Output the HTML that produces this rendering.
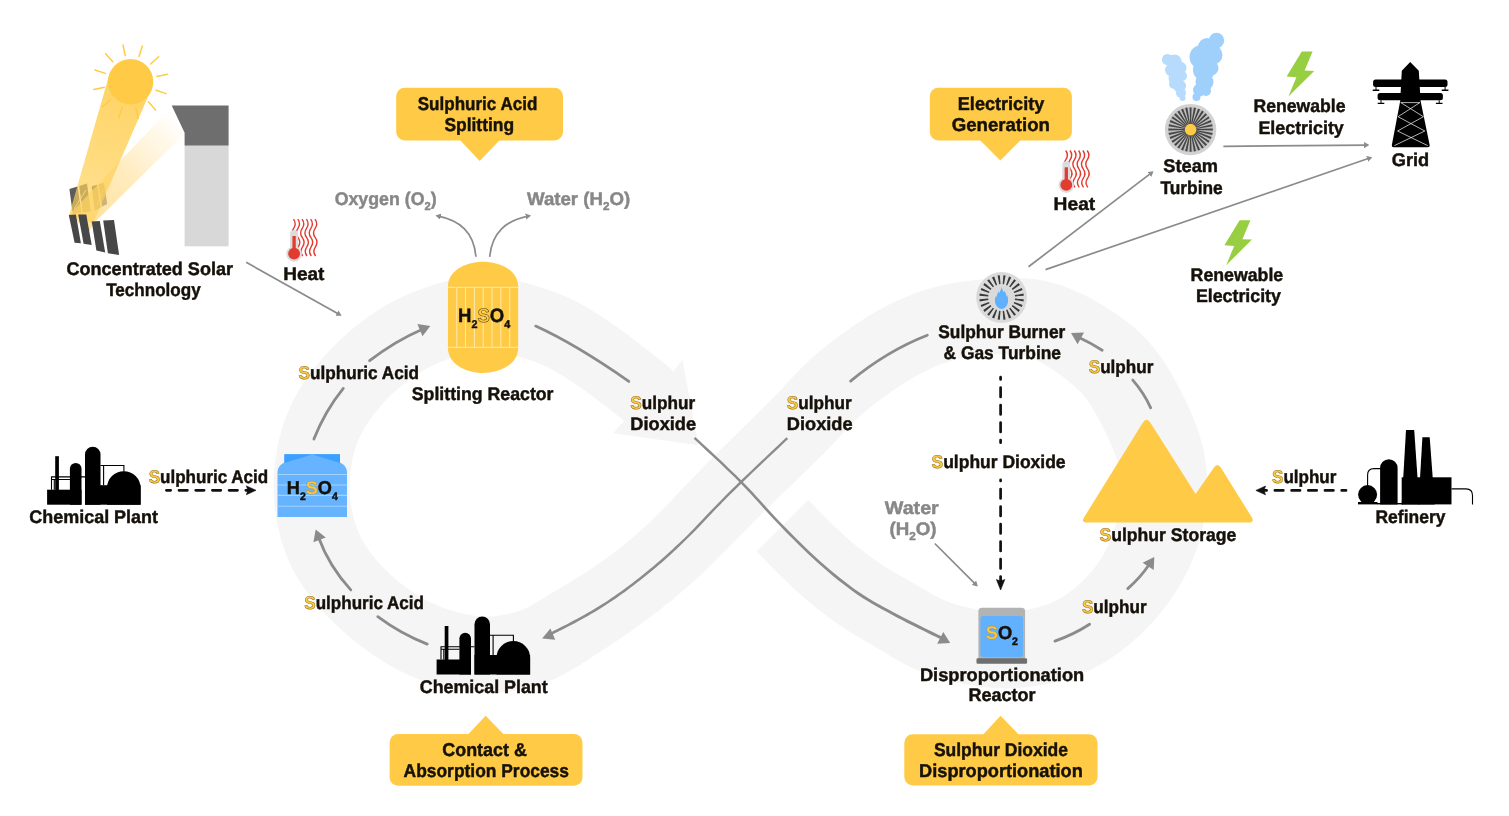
<!DOCTYPE html>
<html lang="en"><head><meta charset="utf-8"><title>Sulphur cycle</title>
<style>
html,body{margin:0;padding:0;background:#fff;}
body{width:1509px;height:816px;overflow:hidden;}
svg{display:block;will-change:transform;}
text{text-rendering:geometricPrecision;}
text{font-family:"Liberation Sans",Arial,Helvetica,sans-serif;font-weight:700;}
.gs{fill:#FFCA3E;stroke:#8f6c1c;stroke-width:0.55px;}
.thin{fill:none;stroke:#8b8b8b;stroke-width:1.7;stroke-linecap:butt;}
.flow{fill:none;stroke:#8b8b8b;stroke-width:2.8;stroke-linecap:round;}
.dash{fill:none;stroke:#111;stroke-width:2.7;stroke-linecap:round;}
</style></head><body>
<svg width="1509" height="816" viewBox="0 0 1509 816">
<rect width="1509" height="816" fill="#fff"/>
<path d="M756.7,551.5 L759.1,554 L761.9,556.9 L764.7,559.8 L767.6,562.7 L770.4,565.7 L773.3,568.6 L776.3,571.6 L779.3,574.6 L782.3,577.6 L785.4,580.6 L788.5,583.6 L791.7,586.5 L794.9,589.5 L798.1,592.4 L801.4,595.3 L804.6,598.2 L808,601 L811.3,603.8 L814.7,606.6 L818.1,609.4 L821.6,612.1 L825.1,614.8 L828.7,617.5 L832.3,620.1 L836,622.7 L839.7,625.3 L843.5,627.8 L847.3,630.3 L851.1,632.6 L854.8,634.9 L858.5,637.1 L862.2,639.3 L865.7,641.3 L869.2,643.3 L872.6,645.3 L875.9,647.2 L879.2,649.2 L882.5,651.2 L885.9,653.3 L889.5,655.4 L893.2,657.7 L897.1,659.9 L901.2,662.3 L905.5,664.5 L910,666.8 L914.6,668.9 L919.3,670.9 L924,672.7 L928.6,674.4 L933.2,675.9 L937.8,677.4 L942.2,678.7 L946.7,679.9 L951.1,681 L955.6,682.1 L960,683.1 L964.6,684.1 L969.1,685 L973.8,685.8 L978.6,686.5 L983.4,687.1 L988.3,687.6 L993.3,688 L998.4,688.3 L1003.4,688.4 L1008.5,688.4 L1013.5,688.2 L1018.5,687.9 L1023.4,687.5 L1028.3,687 L1033.1,686.3 L1037.9,685.6 L1042.6,684.8 L1047.3,683.8 L1052,682.8 L1056.7,681.7 L1061.4,680.5 L1066.2,679.1 L1071,677.6 L1075.8,676 L1080.6,674.1 L1085.4,672.1 L1090.3,670 L1095,667.6 L1099.7,665.1 L1104.3,662.5 L1108.7,659.7 L1113,656.8 L1117.1,653.9 L1121.1,651 L1124.9,647.9 L1128.7,644.9 L1132.4,641.8 L1136,638.6 L1139.5,635.4 L1143,632 L1146.4,628.6 L1149.8,625.1 L1153.2,621.5 L1156.5,617.8 L1159.7,614.1 L1162.8,610.2 L1165.9,606.2 L1168.8,602.2 L1171.7,598.1 L1174.5,594 L1177.1,589.8 L1179.7,585.5 L1182.2,581.3 L1184.5,576.9 L1186.8,572.5 L1189,568 L1191.1,563.4 L1193.1,558.8 L1194.9,554 L1196.6,549.2 L1198.2,544.4 L1199.7,539.5 L1201,534.6 L1202.2,529.8 L1203.3,524.9 L1204.2,520 L1205,515.1 L1205.7,510.2 L1206.2,505.2 L1206.7,500.2 L1207,495.2 L1207.2,490.1 L1207.2,484.9 L1207.1,479.7 L1206.9,474.4 L1206.4,469.1 L1205.8,463.8 L1205,458.4 L1204.1,453.1 L1203,447.8 L1201.7,442.7 L1200.3,437.6 L1198.7,432.7 L1197.1,427.9 L1195.4,423.2 L1193.6,418.7 L1191.8,414.3 L1189.9,410 L1188,405.8 L1186.1,401.6 L1184.1,397.6 L1182.1,393.6 L1180.1,389.6 L1178,385.7 L1175.9,381.8 L1173.7,377.8 L1171.4,373.8 L1169,369.8 L1166.5,365.7 L1163.9,361.6 L1161,357.4 L1158,353.2 L1154.8,349 L1151.4,344.9 L1147.8,340.8 L1144.1,336.9 L1140.3,333.2 L1136.4,329.6 L1132.5,326.1 L1128.5,322.9 L1124.5,319.8 L1120.6,316.9 L1116.6,314.2 L1112.7,311.5 L1108.7,309 L1104.7,306.5 L1100.8,304.1 L1096.7,301.8 L1092.7,299.5 L1088.5,297.3 L1084.2,295.1 L1079.8,293 L1075.2,290.9 L1070.5,288.8 L1065.5,286.9 L1060.4,285 L1055,283.4 L1049.6,281.9 L1044,280.7 L1038.4,279.7 L1032.9,279 L1027.5,278.5 L1022.3,278.2 L1017.2,278 L1012.3,278 L1007.6,278.1 L1003.1,278.2 L998.6,278.4 L994.1,278.7 L989.7,278.9 L985.3,279.2 L980.9,279.6 L976.4,280 L971.8,280.4 L967.3,280.9 L962.6,281.6 L958,282.2 L953.3,283 L948.6,283.9 L943.9,284.9 L939.1,286 L934.4,287.2 L929.7,288.5 L925.1,289.9 L920.5,291.4 L915.9,293 L911.5,294.7 L907.1,296.4 L902.8,298.3 L898.5,300.1 L894.3,302.1 L890.1,304.1 L885.9,306.2 L881.9,308.4 L877.8,310.6 L873.8,312.9 L869.9,315.2 L866,317.6 L862.2,320 L858.5,322.4 L854.8,324.9 L851.2,327.4 L847.6,329.9 L844,332.4 L840.5,335 L837,337.6 L833.6,340.2 L830.1,342.9 L826.7,345.6 L823.2,348.4 L819.8,351.2 L816.3,354.2 L812.9,357.2 L809.5,360.2 L806.1,363.4 L802.7,366.6 L799.5,369.9 L796.3,373.1 L793.2,376.4 L790.3,379.5 L787.5,382.6 L784.8,385.5 L782.2,388.4 L779.6,391.2 L777.1,393.9 L774.5,396.6 L771.9,399.2 L769.3,401.9 L766.6,404.6 L763.8,407.3 L761,410 L758.2,412.8 L755.3,415.6 L752.5,418.4 L749.6,421.2 L746.7,424 L743.9,426.8 L741,429.6 L738.1,432.4 L735.3,435.2 L732.4,438 L729.6,440.9 L726.7,443.7 L723.8,446.5 L721,449.3 L718.1,452.2 L715.2,455 L712.4,457.9 L709.5,460.7 L706.6,463.6 L703.7,466.5 L700.9,469.5 L698,472.4 L695.1,475.4 L692.2,478.4 L689.3,481.4 L686.5,484.4 L683.7,487.3 L680.9,490.3 L678.2,493.2 L675.5,496.1 L672.8,499 L670.1,501.7 L667.5,504.5 L664.9,507.2 L662.2,509.9 L659.6,512.6 L656.9,515.2 L654.2,517.8 L651.6,520.4 L648.8,523 L646.1,525.5 L643.3,528 L640.6,530.5 L637.8,533 L635,535.5 L632.1,537.9 L629.3,540.3 L626.4,542.7 L623.5,545.1 L620.6,547.4 L617.7,549.8 L614.7,552.1 L611.8,554.3 L608.8,556.6 L605.8,558.8 L602.7,560.9 L599.7,563.1 L596.6,565.2 L593.5,567.3 L590.4,569.4 L587.3,571.4 L584.2,573.5 L581,575.5 L577.8,577.5 L574.5,579.4 L571.3,581.4 L567.9,583.4 L564.6,585.4 L561.1,587.5 L557.6,589.5 L554.1,591.7 L550.6,593.8 L547.2,595.9 L543.8,598 L540.5,600 L537.4,601.9 L534.5,603.6 L531.8,605.2 L529.2,606.6 L526.7,607.8 L524.2,608.9 L521.8,609.9 L519.3,610.8 L516.7,611.7 L514,612.5 L511.3,613.3 L508.4,613.9 L505.4,614.6 L502.5,615.1 L499.6,615.6 L496.7,615.9 L493.8,616.2 L491,616.4 L488.3,616.5 L485.6,616.6 L482.9,616.5 L480.2,616.3 L477.4,616.1 L474.6,615.7 L471.7,615.3 L468.7,614.8 L465.7,614.2 L462.6,613.5 L459.4,612.7 L456.3,611.9 L453.1,611 L450,610.1 L447,609.1 L444,608 L441,607 L438.1,605.8 L435.3,604.6 L432.5,603.3 L429.7,602 L426.9,600.6 L424.1,599 L421.3,597.4 L418.5,595.7 L415.7,593.9 L412.8,592.1 L410,590.1 L407.2,588.2 L404.4,586.1 L401.7,584.1 L399,582 L396.4,579.9 L393.9,577.7 L391.4,575.5 L388.9,573.2 L386.6,570.9 L384.2,568.6 L381.9,566.1 L379.6,563.7 L377.4,561.2 L375.2,558.6 L373.1,556.1 L371.1,553.5 L369.3,551 L367.5,548.5 L365.8,546 L364.3,543.5 L362.8,541.1 L361.5,538.7 L360.3,536.2 L359.1,533.7 L358.1,531.2 L357.1,528.6 L356.1,525.9 L355.2,523.1 L354.4,520.2 L353.6,517.3 L352.9,514.3 L352.2,511.3 L351.6,508.3 L351.1,505.2 L350.7,502.1 L350.3,499.1 L350,496 L349.8,493 L349.6,490 L349.6,487 L349.6,484 L349.7,481 L349.8,477.9 L350.1,474.9 L350.4,471.8 L350.8,468.8 L351.3,465.7 L351.8,462.7 L352.4,459.6 L353.1,456.6 L353.9,453.7 L354.7,450.7 L355.5,447.9 L356.5,445.1 L357.5,442.4 L358.5,439.8 L359.7,437.2 L360.9,434.6 L362.2,432.1 L363.6,429.5 L365.1,427 L366.7,424.4 L368.4,421.8 L370.2,419.2 L372.1,416.6 L374.1,414 L376.2,411.4 L378.3,408.9 L380.4,406.3 L382.6,403.8 L384.9,401.4 L387.2,399 L389.5,396.6 L391.8,394.3 L394.2,392.1 L396.7,389.9 L399.2,387.7 L401.8,385.6 L404.4,383.5 L407,381.4 L409.7,379.4 L412.4,377.5 L415,375.6 L417.7,373.9 L420.4,372.2 L423.1,370.5 L425.9,369 L428.6,367.5 L431.4,366.1 L434.3,364.7 L437.2,363.4 L440.2,362.1 L443.3,360.9 L446.4,359.6 L449.6,358.5 L452.9,357.3 L456.1,356.2 L459.2,355.2 L462.3,354.3 L465.3,353.5 L468.1,352.8 L470.8,352.2 L473.4,351.8 L475.9,351.4 L478.4,351.1 L480.8,351 L483.3,350.9 L485.9,351 L488.5,351.1 L491.3,351.3 L494.2,351.7 L497.3,352.1 L500.4,352.6 L503.6,353.2 L506.9,353.9 L510.3,354.7 L513.7,355.5 L517,356.3 L520.4,357.2 L523.7,358.2 L526.9,359.2 L530.1,360.2 L533.2,361.2 L536.2,362.3 L539.1,363.5 L542,364.7 L544.8,366 L547.7,367.3 L550.5,368.8 L553.4,370.4 L556.4,372.1 L559.4,373.9 L562.5,375.7 L565.6,377.7 L568.7,379.7 L571.9,381.7 L575,383.8 L578.1,385.9 L581.1,388 L584.2,390.1 L587.2,392.3 L590.2,394.5 L593.2,396.7 L596.3,399 L599.3,401.4 L602.4,403.7 L605.4,406.1 L608.5,408.5 L611.6,411 L614.7,413.4 L617.8,415.9 L620.9,418.3 L624,420.8 L624.3,420.7 L613.1,433.3 L698.3,445.3 L682.4,359.4 L673.7,371.3 L667.7,366.2 L664.6,363.6 L661.4,361.1 L658.3,358.6 L655.1,356.1 L651.9,353.5 L648.7,351 L645.4,348.4 L642.2,345.9 L638.9,343.3 L635.5,340.8 L632.1,338.2 L628.7,335.6 L625.3,333.1 L621.8,330.6 L618.3,328.1 L614.8,325.6 L611.3,323.2 L607.8,320.8 L604.2,318.4 L600.6,316 L596.9,313.6 L593.1,311.2 L589.1,308.8 L585.1,306.4 L580.9,304 L576.6,301.8 L572.3,299.6 L567.9,297.5 L563.4,295.6 L559,293.7 L554.5,292 L550.1,290.4 L545.8,288.9 L541.4,287.5 L537.1,286.1 L532.7,284.8 L528.3,283.6 L523.9,282.4 L519.3,281.3 L514.7,280.3 L510,279.3 L505.1,278.5 L500.1,277.7 L494.9,277.1 L489.6,276.7 L484.2,276.5 L478.7,276.5 L473.2,276.7 L467.7,277.2 L462.3,277.8 L457.1,278.7 L451.9,279.8 L447,280.9 L442.2,282.2 L437.6,283.5 L433.1,284.9 L428.7,286.4 L424.3,287.9 L420,289.5 L415.7,291.2 L411.3,292.9 L407,294.8 L402.6,296.7 L398.2,298.8 L393.9,301 L389.6,303.3 L385.4,305.7 L381.2,308.2 L377.1,310.8 L373.1,313.4 L369.2,316.1 L365.4,318.9 L361.6,321.7 L357.9,324.5 L354.3,327.5 L350.7,330.4 L347.1,333.5 L343.6,336.6 L340.2,339.8 L336.8,343.1 L333.4,346.4 L330.2,349.8 L327,353.3 L323.8,356.7 L320.8,360.3 L317.8,363.9 L314.8,367.5 L311.9,371.3 L309,375.1 L306.2,379.1 L303.5,383.1 L300.8,387.3 L298.2,391.6 L295.6,396.1 L293.2,400.6 L291,405.3 L288.9,410 L286.9,414.7 L285.1,419.5 L283.4,424.3 L281.9,429.1 L280.6,433.9 L279.3,438.7 L278.2,443.5 L277.2,448.3 L276.4,453.2 L275.6,458 L275,462.9 L274.4,467.8 L274,472.8 L273.7,477.7 L273.6,482.7 L273.6,487.7 L273.7,492.7 L274,497.7 L274.3,502.7 L274.8,507.6 L275.5,512.5 L276.2,517.3 L277.1,522.2 L278,527 L279.1,531.8 L280.4,536.6 L281.7,541.4 L283.2,546.2 L284.9,551 L286.7,555.8 L288.7,560.6 L290.8,565.4 L293.2,570.1 L295.7,574.7 L298.3,579.2 L301.1,583.6 L303.9,587.8 L306.8,591.9 L309.8,595.8 L312.8,599.6 L315.9,603.3 L318.9,606.9 L322,610.4 L325.2,613.8 L328.4,617.2 L331.7,620.5 L335,623.8 L338.4,627 L341.9,630.2 L345.4,633.3 L348.9,636.4 L352.5,639.3 L356.1,642.2 L359.7,645.1 L363.4,647.8 L367.1,650.6 L370.8,653.2 L374.6,655.9 L378.5,658.5 L382.4,661 L386.5,663.5 L390.6,665.9 L394.9,668.3 L399.2,670.6 L403.7,672.8 L408.1,674.9 L412.6,676.8 L417.1,678.7 L421.7,680.4 L426.2,682 L430.7,683.5 L435.2,684.9 L439.8,686.2 L444.4,687.4 L449.1,688.6 L453.9,689.6 L458.8,690.6 L463.9,691.4 L469,692.1 L474.2,692.6 L479.4,692.9 L484.7,693.1 L490,693.1 L495.2,692.9 L500.4,692.5 L505.6,692 L510.6,691.3 L515.6,690.5 L520.5,689.5 L525.4,688.5 L530.4,687.3 L535.3,685.9 L540.3,684.4 L545.2,682.7 L550.2,680.8 L555.1,678.7 L559.9,676.4 L564.5,674.1 L568.9,671.6 L573.1,669.2 L577,666.8 L580.7,664.4 L584.3,662.1 L587.7,659.9 L591,657.7 L594.2,655.6 L597.5,653.5 L600.9,651.3 L604.2,649.1 L607.7,646.9 L611.1,644.6 L614.6,642.3 L618.1,640 L621.6,637.6 L625.1,635.2 L628.7,632.8 L632.2,630.3 L635.6,627.8 L639.1,625.3 L642.6,622.8 L646,620.3 L649.4,617.7 L652.8,615.1 L656.2,612.5 L659.6,609.9 L663,607.3 L666.3,604.6 L669.7,601.9 L673,599.2 L676.3,596.5 L679.5,593.7 L682.8,591 L686,588.2 L689.2,585.4 L692.4,582.5 L695.6,579.7 L698.8,576.8 L701.9,573.9 L705,571 L708.1,568 L711.2,565.1 L714.2,562.1 L717.3,559.1 L720.2,556.1 L723.2,553.1 L726.1,550.2 L729,547.2 L731.8,544.3 L734.5,541.4 L737.3,538.6 L740,535.8 L742.7,533 L745.4,530.2 L748.2,527.5 L750.9,524.7 L753.6,522 L756.4,519.3 L759.2,516.5 L762,513.8 L764.8,511 L767.7,508.2 L770.5,505.5 L773.4,502.7 L776.2,499.9 L779.1,497.1 L782,494.3 L784.8,491.6 L787.7,488.8 L790.5,486 L793.4,483.2 L796.3,480.4 L799.1,477.6 L802,474.8 L804.9,472 L807.7,469.2 L810.6,466.4 L813.5,463.6 L816.4,460.7 L819.4,457.8 L822.4,454.9 L825.4,451.8 L828.4,448.8 L831.4,445.7 L834.3,442.6 L837.2,439.5 L840,436.4 L842.7,433.5 L845.3,430.7 L847.9,428 L850.3,425.4 L852.8,422.9 L855.2,420.5 L857.6,418.2 L860.1,416 L862.6,413.7 L865.3,411.5 L867.9,409.3 L870.7,407 L873.5,404.8 L876.4,402.6 L879.3,400.4 L882.2,398.2 L885.2,396.1 L888.2,393.9 L891.1,391.8 L894.1,389.8 L897.1,387.7 L900.1,385.8 L903.1,383.8 L906.1,382 L909,380.1 L912,378.4 L914.9,376.7 L917.9,375 L920.9,373.4 L923.9,371.9 L926.9,370.4 L929.9,368.9 L933,367.6 L936,366.3 L939.1,365 L942.1,363.8 L945.1,362.7 L948.1,361.7 L951.1,360.8 L954.1,359.9 L957.1,359.1 L960.2,358.4 L963.3,357.7 L966.4,357.1 L969.6,356.6 L972.9,356.1 L976.3,355.7 L979.6,355.3 L983.1,355 L986.6,354.8 L990.1,354.6 L993.7,354.4 L997.3,354.3 L1000.9,354.2 L1004.5,354.2 L1007.9,354.2 L1011.2,354.3 L1014.4,354.5 L1017.3,354.7 L1020,355 L1022.6,355.4 L1024.9,355.9 L1027.2,356.5 L1029.3,357.2 L1031.5,357.9 L1033.7,358.9 L1036,359.9 L1038.4,361.1 L1040.9,362.4 L1043.5,363.9 L1046.1,365.5 L1048.9,367.2 L1051.7,369 L1054.5,370.9 L1057.3,372.8 L1060,374.8 L1062.8,376.8 L1065.4,378.8 L1068,380.8 L1070.5,382.8 L1072.8,384.8 L1075.1,386.8 L1077.2,388.8 L1079.2,390.7 L1081,392.7 L1082.8,394.6 L1084.5,396.6 L1086.1,398.6 L1087.6,400.8 L1089.2,403 L1090.8,405.3 L1092.3,407.9 L1093.9,410.5 L1095.5,413.3 L1097.2,416.2 L1098.8,419.2 L1100.5,422.3 L1102.1,425.5 L1103.7,428.6 L1105.3,431.8 L1106.8,435 L1108.3,438.2 L1109.8,441.4 L1111.2,444.5 L1112.5,447.6 L1113.7,450.6 L1114.8,453.5 L1115.9,456.4 L1116.8,459.1 L1117.6,461.8 L1118.4,464.5 L1119,467.1 L1119.5,469.6 L1120,472.2 L1120.3,474.8 L1120.6,477.4 L1120.8,480 L1121,482.7 L1121,485.5 L1121,488.3 L1120.9,491.2 L1120.8,494.2 L1120.5,497.2 L1120.3,500.2 L1119.9,503.3 L1119.5,506.3 L1119.1,509.3 L1118.6,512.3 L1118.1,515.2 L1117.5,518.1 L1116.8,521 L1116.1,523.8 L1115.3,526.6 L1114.5,529.4 L1113.5,532.2 L1112.5,535 L1111.5,537.8 L1110.3,540.7 L1109.1,543.5 L1107.8,546.3 L1106.4,549 L1105,551.7 L1103.5,554.4 L1102,557 L1100.4,559.5 L1098.7,562 L1097,564.5 L1095.2,566.9 L1093.3,569.3 L1091.3,571.7 L1089.2,574.1 L1087,576.4 L1084.8,578.7 L1082.5,581 L1080.2,583.2 L1077.8,585.4 L1075.4,587.5 L1073,589.5 L1070.7,591.3 L1068.3,593.1 L1066,594.8 L1063.7,596.3 L1061.3,597.7 L1059,599.1 L1056.6,600.3 L1054.2,601.5 L1051.7,602.6 L1049,603.7 L1046.3,604.7 L1043.5,605.6 L1040.5,606.5 L1037.5,607.4 L1034.4,608.2 L1031.2,608.9 L1028.1,609.6 L1024.9,610.2 L1021.8,610.8 L1018.7,611.2 L1015.6,611.6 L1012.6,611.9 L1009.6,612.2 L1006.6,612.3 L1003.7,612.4 L1000.7,612.3 L997.8,612.2 L994.8,612.1 L991.7,611.8 L988.6,611.4 L985.5,611 L982.2,610.5 L978.9,609.9 L975.6,609.3 L972.2,608.6 L968.9,607.8 L965.5,607 L962.2,606.2 L959,605.3 L955.9,604.4 L952.9,603.4 L950,602.4 L947.2,601.4 L944.5,600.3 L941.8,599.1 L939.2,597.9 L936.4,596.4 L933.5,594.9 L930.5,593.2 L927.3,591.3 L924,589.4 L920.5,587.3 L916.9,585.2 L913.3,583.2 L909.7,581.1 L906.1,579.1 L902.7,577.1 L899.3,575.2 L896,573.3 L892.8,571.4 L889.7,569.6 L886.6,567.7 L883.7,565.9 L880.8,564 L877.9,562 L875,560.1 L872.2,558 L869.3,555.9 L866.5,553.8 L863.6,551.6 L860.8,549.3 L857.9,547.1 L855.1,544.8 L852.3,542.4 L849.5,540.1 L846.8,537.7 L844.1,535.2 L841.4,532.8 L838.7,530.3 L836,527.8 L833.3,525.2 L830.6,522.6 L827.9,519.9 L825.2,517.2 L822.5,514.4 L819.8,511.7 L817,508.8 L814.3,506 L811.5,503.1 L808.3,499.9Z" fill="#f5f5f5" fill-rule="nonzero"/>
<defs>
<linearGradient id="beam1" gradientUnits="userSpaceOnUse" x1="130" y1="84" x2="80" y2="222"><stop offset="0" stop-color="#FFCB47" stop-opacity="0.84"/><stop offset="0.5" stop-color="#FFCF52" stop-opacity="0.76"/><stop offset="1" stop-color="#FFD25E" stop-opacity="0.64"/></linearGradient>
<linearGradient id="beam2" gradientUnits="userSpaceOnUse" x1="82" y1="218" x2="178" y2="120"><stop offset="0" stop-color="#FFD774" stop-opacity="0.75"/><stop offset="0.5" stop-color="#FFE09A" stop-opacity="0.6"/><stop offset="0.85" stop-color="#FFEFC8" stop-opacity="0.35"/><stop offset="1" stop-color="#FFF6E0" stop-opacity="0.05"/></linearGradient>
</defs>
<g id="solar">
<rect x="184.6" y="145" width="44" height="101.3" fill="#d8d8d8"/>
<path d="M171.7,105.5 L228.6,105.5 L228.6,145.5 L184.6,145.5 L184.6,132.8 Z" fill="#6e6e6e"/>
<path d="M69.4,189.1 L77.6,186.4 L81.3,212.6 L72.8,214.1 Z" fill="#5c5c5c"/>
<path d="M79.2,186 L87,183.5 L90.8,211.4 L82.8,212.4 Z" fill="#5c5c5c"/>
<path d="M91.7,186.2 L97.3,184.7 L100.5,207.5 L94.8,210.7 Z" fill="#5c5c5c"/>
<path d="M98.6,184.4 L103.9,183.1 L107.2,204 L101.8,206.8 Z" fill="#5c5c5c"/>
<path d="M74,209 L86,190 M97,205 L103.5,190" stroke="#cfe0b0" stroke-width="1.1" fill="none" opacity="0.8"/>
<path d="M69.2,214.8 L171.9,106.5 L184.6,133.5 L93.5,223.5 Z" fill="url(#beam2)"/>
<path d="M108.6,77 L152,87.5 L89.5,231.5 L69.2,214.8 Z" fill="url(#beam1)"/>
<circle cx="130.6" cy="81.8" r="22.7" fill="#FFCB47"/>
<line x1="125.2" y1="55.6" x2="123" y2="45" stroke="#FFCB47" stroke-width="1.5" stroke-linecap="round"/>
<line x1="139" y1="56.4" x2="142.4" y2="46.1" stroke="#FFCB47" stroke-width="1.5" stroke-linecap="round"/>
<line x1="150.6" y1="64" x2="158.7" y2="56.8" stroke="#FFCB47" stroke-width="1.5" stroke-linecap="round"/>
<line x1="156.8" y1="76.4" x2="167.4" y2="74.2" stroke="#FFCB47" stroke-width="1.5" stroke-linecap="round"/>
<line x1="156" y1="90.2" x2="166.3" y2="93.6" stroke="#FFCB47" stroke-width="1.5" stroke-linecap="round"/>
<line x1="148.4" y1="101.8" x2="155.6" y2="109.9" stroke="#FFCB47" stroke-width="1.5" stroke-linecap="round"/>
<line x1="136" y1="108" x2="138.2" y2="118.6" stroke="#FFCB47" stroke-width="1.5" stroke-linecap="round"/>
<line x1="122.2" y1="107.2" x2="118.8" y2="117.5" stroke="#FFCB47" stroke-width="1.5" stroke-linecap="round"/>
<line x1="110.6" y1="99.6" x2="102.5" y2="106.8" stroke="#FFCB47" stroke-width="1.5" stroke-linecap="round"/>
<line x1="104.4" y1="87.2" x2="93.8" y2="89.4" stroke="#FFCB47" stroke-width="1.5" stroke-linecap="round"/>
<line x1="105.2" y1="73.4" x2="94.9" y2="70" stroke="#FFCB47" stroke-width="1.5" stroke-linecap="round"/>
<line x1="112.8" y1="61.8" x2="105.6" y2="53.7" stroke="#FFCB47" stroke-width="1.5" stroke-linecap="round"/>
<path d="M68.8,215 L75.9,214.5 L80.9,243.3 L74.6,242.8 Z" fill="#474747"/>
<path d="M78.2,214.5 L86.3,214.5 L91.7,245.1 L83.6,243.8 Z" fill="#474747"/>
<path d="M91.7,221.5 L99.8,220.9 L105.2,252.6 L96.4,250.5 Z" fill="#474747"/>
<path d="M103.2,220.4 L114,219.9 L119.1,255 L107.9,253.2 Z" fill="#474747"/>
</g>
<g transform="translate(290,219)"><path d="M3.5,0.2 q3.3,4.6 0.15,9.2 q-3.3,4.6 0.15,9.2 q3.3,4.6 0.15,9.2 q-3.3,4.6 0.15,9.2" fill="none" stroke="#E23B30" stroke-width="1.4"/><path d="M7.8,0.2 q3.3,4.6 0.15,9.2 q-3.3,4.6 0.15,9.2 q3.3,4.6 0.15,9.2 q-3.3,4.6 0.15,9.2" fill="none" stroke="#E23B30" stroke-width="1.4"/><path d="M12.1,0.2 q3.3,4.6 0.15,9.2 q-3.3,4.6 0.15,9.2 q3.3,4.6 0.15,9.2 q-3.3,4.6 0.15,9.2" fill="none" stroke="#E23B30" stroke-width="1.4"/><path d="M16.4,0.2 q3.3,4.6 0.15,9.2 q-3.3,4.6 0.15,9.2 q3.3,4.6 0.15,9.2 q-3.3,4.6 0.15,9.2" fill="none" stroke="#E23B30" stroke-width="1.4"/><path d="M20.7,0.2 q3.3,4.6 0.15,9.2 q-3.3,4.6 0.15,9.2 q3.3,4.6 0.15,9.2 q-3.3,4.6 0.15,9.2" fill="none" stroke="#E23B30" stroke-width="1.4"/><path d="M25,0.2 q3.3,4.6 0.15,9.2 q-3.3,4.6 0.15,9.2 q3.3,4.6 0.15,9.2 q-3.3,4.6 0.15,9.2" fill="none" stroke="#E23B30" stroke-width="1.4"/><path d="M0.1,15 a4,4 0 0 1 8,0 V28.2 a7.8,7.8 0 1 1 -8,0 Z" fill="#dcdcdc"/><rect x="2.45" y="17" width="3.3" height="14" fill="#E23B30"/><circle cx="4.1" cy="34.6" r="5.9" fill="#E23B30"/></g>
<g transform="translate(1062.2,150.3)"><path d="M3.5,0.2 q3.3,4.6 0.15,9.2 q-3.3,4.6 0.15,9.2 q3.3,4.6 0.15,9.2 q-3.3,4.6 0.15,9.2" fill="none" stroke="#E23B30" stroke-width="1.4"/><path d="M7.8,0.2 q3.3,4.6 0.15,9.2 q-3.3,4.6 0.15,9.2 q3.3,4.6 0.15,9.2 q-3.3,4.6 0.15,9.2" fill="none" stroke="#E23B30" stroke-width="1.4"/><path d="M12.1,0.2 q3.3,4.6 0.15,9.2 q-3.3,4.6 0.15,9.2 q3.3,4.6 0.15,9.2 q-3.3,4.6 0.15,9.2" fill="none" stroke="#E23B30" stroke-width="1.4"/><path d="M16.4,0.2 q3.3,4.6 0.15,9.2 q-3.3,4.6 0.15,9.2 q3.3,4.6 0.15,9.2 q-3.3,4.6 0.15,9.2" fill="none" stroke="#E23B30" stroke-width="1.4"/><path d="M20.7,0.2 q3.3,4.6 0.15,9.2 q-3.3,4.6 0.15,9.2 q3.3,4.6 0.15,9.2 q-3.3,4.6 0.15,9.2" fill="none" stroke="#E23B30" stroke-width="1.4"/><path d="M25,0.2 q3.3,4.6 0.15,9.2 q-3.3,4.6 0.15,9.2 q3.3,4.6 0.15,9.2 q-3.3,4.6 0.15,9.2" fill="none" stroke="#E23B30" stroke-width="1.4"/><path d="M0.1,15 a4,4 0 0 1 8,0 V28.2 a7.8,7.8 0 1 1 -8,0 Z" fill="#dcdcdc"/><rect x="2.45" y="17" width="3.3" height="14" fill="#E23B30"/><circle cx="4.1" cy="34.6" r="5.9" fill="#E23B30"/></g>
<g id="split">
<path d="M447.9,287 C447.9,268 470,261.8 483,261.8 C496,261.8 518.2,268 518.2,287 V347.5 C518.2,366.5 496,373 483,373 C470,373 447.9,366.5 447.9,347.5 Z" fill="#FFCB47"/>
<path d="M447.9,287.3 H518.2 M447.9,347.3 H518.2" stroke="#FFF1CC" stroke-width="0.8" fill="none"/>
<path d="M456.8,287.3 V347.3 M465.5,287.3 V347.3 M474.4,287.3 V347.3 M483.2,287.3 V347.3 M492,287.3 V347.3 M500.9,287.3 V347.3 M509.7,287.3 V347.3 " stroke="#FFF1CC" stroke-width="0.8" fill="none"/>
<text x="458" y="321.5" font-size="19.4" fill="#15110a" stroke="#15110a" stroke-width="0.45" textLength="52.3" lengthAdjust="spacingAndGlyphs">H<tspan font-size="11.3" dy="6.2">2</tspan><tspan dy="-6.2" fill="#FFCB47" stroke="#4a3808" stroke-width="0.55">S</tspan>O<tspan font-size="11.3" dy="6.2">4</tspan></text>
</g>
<g id="tank">
<path d="M284.4,454.3 H340 V462.5 Q346.8,465.5 347,472 V517 H277.5 V472 Q277.7,465.5 284.4,462.5 Z" fill="#66B3FF"/>
<path d="M284.4,454.3 H340 V463 L312.2,454.6 L284.4,463 Z" fill="#3BA0FF"/>
<path d="M277.5,474.5 H347 M277.5,485 H347 M277.5,495.4 H347 M277.5,506.3 H347" stroke="#A3D2FF" stroke-width="1.1" fill="none"/>
<text x="286.8" y="493.8" font-size="18.6" fill="#15110a" stroke="#15110a" stroke-width="0.45" textLength="51" lengthAdjust="spacingAndGlyphs">H<tspan font-size="10.8" dy="6">2</tspan><tspan dy="-6" fill="#FFCA3E" stroke="#B98A22" stroke-width="0.4">S</tspan>O<tspan font-size="10.8" dy="6">4</tspan></text>
</g>
<g transform="translate(47.1,446.7)" fill="#000"><rect x="0" y="43" width="34.4" height="15"/><rect x="8.1" y="9.5" width="3.7" height="34"/><path d="M22.8,58 V22 a5.8,5.8 0 0 1 11.6,0 V58 Z"/><path d="M37.9,58 V7.8 a7.75,7.75 0 0 1 15.5,0 V58 Z"/><rect x="37.9" y="38.5" width="55.6" height="19.5"/><path d="M59.9,58 V41.3 a16.8,16.8 0 0 1 33.6,0 V58 Z"/><path d="M53.4,18.8 H76.8 V25 M56.5,18.8 V38.5" fill="none" stroke="#000" stroke-width="1.1"/><path d="M4.4,43 V30.2 H37.9 M4.4,32.8 H22.8 M7.2,32.8 V43" fill="none" stroke="#000" stroke-width="1.1"/></g>
<g transform="translate(436.6,616.5)" fill="#000"><rect x="0" y="43" width="34.4" height="15"/><rect x="8.1" y="9.5" width="3.7" height="34"/><path d="M22.8,58 V22 a5.8,5.8 0 0 1 11.6,0 V58 Z"/><path d="M37.9,58 V7.8 a7.75,7.75 0 0 1 15.5,0 V58 Z"/><rect x="37.9" y="38.5" width="55.6" height="19.5"/><path d="M59.9,58 V41.3 a16.8,16.8 0 0 1 33.6,0 V58 Z"/><path d="M53.4,18.8 H76.8 V25 M56.5,18.8 V38.5" fill="none" stroke="#000" stroke-width="1.1"/><path d="M4.4,43 V30.2 H37.9 M4.4,32.8 H22.8 M7.2,32.8 V43" fill="none" stroke="#000" stroke-width="1.1"/></g>
<g id="burner">
<circle cx="1001.6" cy="297.5" r="25.4" fill="#dadada"/>
<path d="M1014.8,299.9 L1023.5,301.5 L1023.8,299.3 L1015,298.6Z M1013.7,303.2 L1021.7,307.1 L1022.6,304.9 L1014.2,302Z M1011.8,306.2 L1018.5,311.9 L1019.9,310.1 L1012.6,305.1Z M1009.2,308.5 L1014.2,315.8 L1016,314.4 L1010.3,307.7Z M1006.1,310.1 L1009,318.5 L1011.2,317.6 L1007.3,309.6Z M1002.7,310.9 L1003.4,319.7 L1005.6,319.4 L1004,310.7Z M999.2,310.7 L997.6,319.4 L999.8,319.7 L1000.5,310.9Z M995.9,309.6 L992,317.6 L994.2,318.5 L997.1,310.1Z M992.9,307.7 L987.2,314.4 L989,315.8 L994,308.5Z M990.6,305.1 L983.3,310.1 L984.7,311.9 L991.4,306.2Z M989,302 L980.6,304.9 L981.5,307.1 L989.5,303.2Z M988.2,298.6 L979.4,299.3 L979.7,301.5 L988.4,299.9Z M988.4,295.1 L979.7,293.5 L979.4,295.7 L988.2,296.4Z M989.5,291.8 L981.5,287.9 L980.6,290.1 L989,293Z M991.4,288.8 L984.7,283.1 L983.3,284.9 L990.6,289.9Z M994,286.5 L989,279.2 L987.2,280.6 L992.9,287.3Z M997.1,284.9 L994.2,276.5 L992,277.4 L995.9,285.4Z M1000.5,284.1 L999.8,275.3 L997.6,275.6 L999.2,284.3Z M1004,284.3 L1005.6,275.6 L1003.4,275.3 L1002.7,284.1Z M1007.3,285.4 L1011.2,277.4 L1009,276.5 L1006.1,284.9Z M1010.3,287.3 L1016,280.6 L1014.2,279.2 L1009.2,286.5Z M1012.6,289.9 L1019.9,284.9 L1018.5,283.1 L1011.8,288.8Z M1014.2,293 L1022.6,290.1 L1021.7,287.9 L1013.7,291.8Z M1015,296.4 L1023.8,295.7 L1023.5,293.5 L1014.8,295.1Z " fill="#3a3a3a"/>
<path d="M1001.6,286.9 C1002,289.5 1003.3,290.6 1003.9,292.6 C1004.2,291.9 1004.3,291.3 1004.3,290.7 C1005.8,292.6 1006.4,294.6 1006.6,296.6 C1006.9,296.2 1007.1,295.8 1007.2,295.3 C1007.9,297 1008.2,298.9 1008.1,300.6 C1008,305.6 1005,308.9 1001.6,308.9 C998.2,308.9 995,305.6 994.9,300.6 C994.9,298.9 995.3,297.2 996,295.8 C996.1,296.4 996.3,296.9 996.6,297.3 C996.8,295 997.7,293 999,291.3 C999,292 999.1,292.6 999.4,293.2 C999.9,290.8 1001.2,289.3 1001.6,286.9 Z" fill="#5FB0FF"/>
</g>
<g id="turbine">
<circle cx="1190.6" cy="129.6" r="25.7" fill="#d2d2d2"/>
<circle cx="1190.6" cy="129.6" r="22.6" fill="#bdbdbd"/>
<path d="M1195.6,129.1 L1212.8,128.6 L1212.8,130.6 L1195.6,130.1Z M1195.6,130.1 L1212.6,132.9 L1212.1,135 L1195.4,131Z M1195.4,131.1 L1211.5,137.1 L1210.7,139.1 L1195,131.9Z M1195,132 L1209.6,141.1 L1208.5,142.8 L1194.5,132.8Z M1194.5,132.8 L1207,144.5 L1205.5,146 L1193.8,133.5Z M1193.8,133.5 L1203.8,147.5 L1202.1,148.6 L1193,134Z M1192.9,134 L1200.1,149.7 L1198.1,150.5 L1192.1,134.4Z M1192,134.4 L1196,151.1 L1193.9,151.6 L1191.1,134.6Z M1191.1,134.6 L1191.6,151.8 L1189.6,151.8 L1190.1,134.6Z M1190.1,134.6 L1187.3,151.6 L1185.2,151.1 L1189.2,134.4Z M1189.1,134.4 L1183.1,150.5 L1181.1,149.7 L1188.3,134Z M1188.2,134 L1179.1,148.6 L1177.4,147.5 L1187.4,133.5Z M1187.4,133.5 L1175.7,146 L1174.2,144.5 L1186.7,132.8Z M1186.7,132.8 L1172.7,142.8 L1171.6,141.1 L1186.2,132Z M1186.2,131.9 L1170.5,139.1 L1169.7,137.1 L1185.8,131.1Z M1185.8,131 L1169.1,135 L1168.6,132.9 L1185.6,130.1Z M1185.6,130.1 L1168.4,130.6 L1168.4,128.6 L1185.6,129.1Z M1185.6,129.1 L1168.6,126.3 L1169.1,124.2 L1185.8,128.2Z M1185.8,128.1 L1169.7,122.1 L1170.5,120.1 L1186.2,127.3Z M1186.2,127.2 L1171.6,118.1 L1172.7,116.4 L1186.7,126.4Z M1186.7,126.4 L1174.2,114.7 L1175.7,113.2 L1187.4,125.7Z M1187.4,125.7 L1177.4,111.7 L1179.1,110.6 L1188.2,125.2Z M1188.3,125.2 L1181.1,109.5 L1183.1,108.7 L1189.1,124.8Z M1189.2,124.8 L1185.2,108.1 L1187.3,107.6 L1190.1,124.6Z M1190.1,124.6 L1189.6,107.4 L1191.6,107.4 L1191.1,124.6Z M1191.1,124.6 L1193.9,107.6 L1196,108.1 L1192,124.8Z M1192.1,124.8 L1198.1,108.7 L1200.1,109.5 L1192.9,125.2Z M1193,125.2 L1202.1,110.6 L1203.8,111.7 L1193.8,125.7Z M1193.8,125.7 L1205.5,113.2 L1207,114.7 L1194.5,126.4Z M1194.5,126.4 L1208.5,116.4 L1209.6,118.1 L1195,127.2Z M1195,127.3 L1210.7,120.1 L1211.5,122.1 L1195.4,128.1Z M1195.4,128.2 L1212.1,124.2 L1212.6,126.3 L1195.6,129.1Z " fill="#454545"/>
<circle cx="1190.6" cy="129.6" r="5.8" fill="#FFCB47"/>
<g fill="#B7DBFC"><circle cx="1167.5" cy="59.5" r="5.6"/><circle cx="1174.5" cy="61.5" r="7"/><circle cx="1180" cy="68" r="6.5"/><circle cx="1171.5" cy="70" r="6.5"/><circle cx="1176" cy="78" r="7.5"/><circle cx="1182" cy="76" r="5"/><circle cx="1179.5" cy="86" r="6.5"/><circle cx="1174" cy="84" r="5"/><circle cx="1181" cy="93" r="5"/><circle cx="1182.5" cy="98" r="3"/></g>
<g fill="#9FCFFB"><circle cx="1216.5" cy="40.5" r="7.7"/><circle cx="1207" cy="47" r="9"/><circle cx="1201.5" cy="57" r="12"/><circle cx="1213" cy="55" r="9.5"/><circle cx="1204" cy="70" r="11"/><circle cx="1211" cy="68" r="7.5"/><circle cx="1204.5" cy="82" r="9"/><circle cx="1199.5" cy="90" r="6.5"/><circle cx="1206" cy="91" r="5"/><circle cx="1196.5" cy="97" r="4"/></g>
</g>
<path d="M1301.8,51.6 L1312.6,51.6 L1304.6,70.6 L1314.2,70.9 L1288.4,96.5 L1296.4,77.2 L1286.6,76.6Z" fill="#97CE42"/>
<path d="M1239.6,220.3 L1250.4,220.3 L1242.4,239.3 L1252,239.6 L1226.2,265.2 L1234.2,245.9 L1224.4,245.3Z" fill="#97CE42"/>
<g id="grid" fill="#000">
<path d="M1410.2,62 L1418.8,70.7 L1420.6,101 L1429.7,145.2 Q1429.9,147.2 1427.9,147.2 H1393.6 Q1391.6,147.2 1391.8,145.2 L1400.2,101 L1401.8,70.7 Z"/>
<rect x="1373.1" y="79.5" width="74.4" height="7.5" rx="2.5"/>
<rect x="1377.6" y="93" width="65.3" height="7.2" rx="2.5"/>
<path d="M1375.5,87 v2.6 h-2.8 v1.3 h6.6 v-1.3 h-2.8 v-2.6 Z"/>
<path d="M1444.6,87 v2.6 h-2.8 v1.3 h6.6 v-1.3 h-2.8 v-2.6 Z"/>
<path d="M1380.5,100.2 v2.6 h-2.8 v1.3 h6.6 v-1.3 h-2.8 v-2.6 Z"/>
<path d="M1438.7,100.2 v2.6 h-2.8 v1.3 h6.6 v-1.3 h-2.8 v-2.6 Z"/>
<path d="M1400.8,102.6 H1419.9 M1400.8,102.6 L1423.4,116.7 L1397.6,131 L1427.7,145.6 M1419.9,102.6 L1398,116.7 L1424.8,131 L1394.4,145.6" fill="none" stroke="#fff" stroke-width="0.7"/>
</g>
<g id="so2">
<path d="M978.4,659 V611.3 a3.5,3.5 0 0 1 3.5,-3.5 H1021.6 a3.5,3.5 0 0 1 3.5,3.5 V659 Z" fill="#b3b3b3"/>
<rect x="980.4" y="615.9" width="42.6" height="41" rx="3" fill="#62B1FF"/>
<rect x="976.5" y="658.2" width="50.6" height="5.5" rx="1.2" fill="#6f6f6f"/>
<text x="985.7" y="638.8" font-size="18.6" fill="#15110a" stroke="#15110a" stroke-width="0.45" textLength="32.3" lengthAdjust="spacingAndGlyphs"><tspan fill="#FFCA3E" stroke="#B98A22" stroke-width="0.4">S</tspan>O<tspan font-size="10.8" dy="6">2</tspan></text>
</g>
<path d="M1087.2,522.6 Q1080.5,522.6 1084.3,517 L1142.6,423 Q1146.6,416.5 1150.6,423 L1195.6,493.9 L1214,467.5 Q1217.4,462.3 1220.8,467.5 L1251.6,517 Q1255,522.6 1248.5,522.6 Z" fill="#FFCB47"/>
<g id="refinery" fill="#000">
<circle cx="1367.6" cy="494.6" r="9.5"/>
<rect x="1358" y="502" width="19.5" height="2.4"/>
<path d="M1367.6,486 V475 Q1367.6,468.6 1374,468.6 H1381" fill="none" stroke="#000" stroke-width="1.1"/>
<path d="M1380.1,504.4 V467.9 a8.75,8.75 0 0 1 17.5,0 V504.4 Z"/>
<rect x="1377" y="503" width="26" height="1.4"/>
<path d="M1406,430 H1414.2 L1419.4,504.4 H1401.7 Z"/>
<path d="M1422.4,437.3 H1429.7 L1434.7,504.4 H1418.5 Z"/>
<rect x="1401.7" y="477.3" width="49.8" height="27.1"/>
<path d="M1451.5,488.9 H1466 Q1472.5,488.9 1472.5,495.5 V504.4" fill="none" stroke="#000" stroke-width="1.1"/>
</g>
<rect x="396.2" y="87.8" width="166.8" height="52.6" rx="8.5" ry="8.5" fill="#FFCB47"/>
<path d="M459.5,139.4 L479.7,161 L500.2,139.4 Z" fill="#FFCB47"/>
<text x="417.7" y="109.8" font-size="18.5" fill="#171208" stroke="#171208" stroke-width="0.45" text-anchor="start" textLength="119.7" lengthAdjust="spacingAndGlyphs">Sulphuric Acid</text>
<text x="444.4" y="130.6" font-size="18.5" fill="#171208" stroke="#171208" stroke-width="0.45" text-anchor="start" textLength="69.7" lengthAdjust="spacingAndGlyphs">Splitting</text>
<rect x="929.8" y="87.8" width="142.1" height="52.7" rx="8.5" ry="8.5" fill="#FFCB47"/>
<path d="M979.4,139.5 L1000.3,160.6 L1021.2,139.5 Z" fill="#FFCB47"/>
<text x="957.8" y="110.3" font-size="18.5" fill="#171208" stroke="#171208" stroke-width="0.45" text-anchor="start" textLength="86.5" lengthAdjust="spacingAndGlyphs">Electricity</text>
<text x="951.7" y="131.4" font-size="18.5" fill="#171208" stroke="#171208" stroke-width="0.45" text-anchor="start" textLength="98.3" lengthAdjust="spacingAndGlyphs">Generation</text>
<rect x="389.6" y="734" width="192.9" height="51.8" rx="8.5" ry="8.5" fill="#FFCB47"/>
<path d="M467.5,735 L485.7,715.7 L504.3,735 Z" fill="#FFCB47"/>
<text x="442.3" y="756.1" font-size="18.5" fill="#171208" stroke="#171208" stroke-width="0.45" text-anchor="start" textLength="84.6" lengthAdjust="spacingAndGlyphs">Contact &amp;</text>
<text x="403.6" y="777" font-size="18.5" fill="#171208" stroke="#171208" stroke-width="0.45" text-anchor="start" textLength="165.4" lengthAdjust="spacingAndGlyphs">Absorption Process</text>
<rect x="904.3" y="734.3" width="193.3" height="51.2" rx="8.5" ry="8.5" fill="#FFCB47"/>
<path d="M982.5,735.3 L1000.5,715.7 L1019.4,735.3 Z" fill="#FFCB47"/>
<text x="933.9" y="755.8" font-size="18.5" fill="#171208" stroke="#171208" stroke-width="0.45" text-anchor="start" textLength="134.1" lengthAdjust="spacingAndGlyphs">Sulphur Dioxide</text>
<text x="919.1" y="776.9" font-size="18.5" fill="#171208" stroke="#171208" stroke-width="0.45" text-anchor="start" textLength="163.7" lengthAdjust="spacingAndGlyphs">Disproportionation</text>
<text x="66.5" y="274.8" font-size="18.3" fill="#15110a" stroke="#15110a" stroke-width="0.45" text-anchor="start" textLength="166.5" lengthAdjust="spacingAndGlyphs">Concentrated Solar</text>
<text x="106.2" y="296.3" font-size="18.3" fill="#15110a" stroke="#15110a" stroke-width="0.45" text-anchor="start" textLength="94.5" lengthAdjust="spacingAndGlyphs">Technology</text>
<text x="283.2" y="280" font-size="18.3" fill="#15110a" stroke="#15110a" stroke-width="0.45" text-anchor="start" textLength="41.2" lengthAdjust="spacingAndGlyphs">Heat</text>
<text x="1053.6" y="210.2" font-size="18.3" fill="#15110a" stroke="#15110a" stroke-width="0.45" text-anchor="start" textLength="41.6" lengthAdjust="spacingAndGlyphs">Heat</text>
<text x="334.7" y="204.7" font-size="18.3" fill="#878787" stroke="#878787" stroke-width="0.45" text-anchor="start" textLength="101.9" lengthAdjust="spacingAndGlyphs">Oxygen (O<tspan font-size="11.5" dy="5">2</tspan><tspan dy="-5">)</tspan></text>
<text x="527" y="204.7" font-size="18.3" fill="#878787" stroke="#878787" stroke-width="0.45" text-anchor="start" textLength="103.2" lengthAdjust="spacingAndGlyphs">Water (H<tspan font-size="11.5" dy="5">2</tspan><tspan dy="-5">O)</tspan></text>
<text x="884.8" y="514" font-size="18.3" fill="#878787" stroke="#878787" stroke-width="0.45" text-anchor="start" textLength="54" lengthAdjust="spacingAndGlyphs">Water</text>
<text x="889.4" y="534.9" font-size="18.3" fill="#878787" stroke="#878787" stroke-width="0.45" text-anchor="start" textLength="47.2" lengthAdjust="spacingAndGlyphs">(H<tspan font-size="11.5" dy="5">2</tspan><tspan dy="-5">O)</tspan></text>
<text x="411.8" y="400" font-size="18.3" fill="#15110a" stroke="#15110a" stroke-width="0.45" text-anchor="start" textLength="141.7" lengthAdjust="spacingAndGlyphs">Splitting Reactor</text>
<text x="298.5" y="378.9" font-size="18.3" fill="#15110a" stroke="#15110a" stroke-width="0.45" text-anchor="start" textLength="120.5" lengthAdjust="spacingAndGlyphs"><tspan class="gs">S</tspan>ulphuric Acid</text>
<text x="148.7" y="483.1" font-size="18.3" fill="#15110a" stroke="#15110a" stroke-width="0.45" text-anchor="start" textLength="119.5" lengthAdjust="spacingAndGlyphs"><tspan class="gs">S</tspan>ulphuric Acid</text>
<text x="304.3" y="609" font-size="18.3" fill="#15110a" stroke="#15110a" stroke-width="0.45" text-anchor="start" textLength="119.7" lengthAdjust="spacingAndGlyphs"><tspan class="gs">S</tspan>ulphuric Acid</text>
<text x="29.3" y="522.8" font-size="18.3" fill="#15110a" stroke="#15110a" stroke-width="0.45" text-anchor="start" textLength="128.7" lengthAdjust="spacingAndGlyphs">Chemical Plant</text>
<text x="419.8" y="692.6" font-size="18.3" fill="#15110a" stroke="#15110a" stroke-width="0.45" text-anchor="start" textLength="127.9" lengthAdjust="spacingAndGlyphs">Chemical Plant</text>
<text x="630.3" y="408.8" font-size="18.3" fill="#15110a" stroke="#15110a" stroke-width="0.45" text-anchor="start" textLength="64.9" lengthAdjust="spacingAndGlyphs"><tspan class="gs">S</tspan>ulphur</text>
<text x="630.3" y="430.1" font-size="18.3" fill="#15110a" stroke="#15110a" stroke-width="0.45" text-anchor="start" textLength="65.8" lengthAdjust="spacingAndGlyphs">Dioxide</text>
<text x="786.8" y="408.8" font-size="18.3" fill="#15110a" stroke="#15110a" stroke-width="0.45" text-anchor="start" textLength="64.9" lengthAdjust="spacingAndGlyphs"><tspan class="gs">S</tspan>ulphur</text>
<text x="786.8" y="430.1" font-size="18.3" fill="#15110a" stroke="#15110a" stroke-width="0.45" text-anchor="start" textLength="65.8" lengthAdjust="spacingAndGlyphs">Dioxide</text>
<text x="938.3" y="337.6" font-size="18.3" fill="#15110a" stroke="#15110a" stroke-width="0.45" text-anchor="start" textLength="127" lengthAdjust="spacingAndGlyphs">Sulphur Burner</text>
<text x="943.6" y="358.8" font-size="18.3" fill="#15110a" stroke="#15110a" stroke-width="0.45" text-anchor="start" textLength="117.4" lengthAdjust="spacingAndGlyphs">&amp; Gas Turbine</text>
<text x="1088.7" y="372.9" font-size="18.3" fill="#15110a" stroke="#15110a" stroke-width="0.45" text-anchor="start" textLength="64.7" lengthAdjust="spacingAndGlyphs"><tspan class="gs">S</tspan>ulphur</text>
<text x="931.5" y="467.8" font-size="18.3" fill="#15110a" stroke="#15110a" stroke-width="0.45" text-anchor="start" textLength="134.1" lengthAdjust="spacingAndGlyphs"><tspan class="gs">S</tspan>ulphur Dioxide</text>
<text x="1081.9" y="612.5" font-size="18.3" fill="#15110a" stroke="#15110a" stroke-width="0.45" text-anchor="start" textLength="64.7" lengthAdjust="spacingAndGlyphs"><tspan class="gs">S</tspan>ulphur</text>
<text x="1099.4" y="540.8" font-size="18.3" fill="#15110a" stroke="#15110a" stroke-width="0.45" text-anchor="start" textLength="137" lengthAdjust="spacingAndGlyphs"><tspan class="gs">S</tspan>ulphur Storage</text>
<text x="1272" y="482.5" font-size="18.3" fill="#15110a" stroke="#15110a" stroke-width="0.45" text-anchor="start" textLength="64.4" lengthAdjust="spacingAndGlyphs"><tspan class="gs">S</tspan>ulphur</text>
<text x="1375.5" y="523.3" font-size="18.3" fill="#15110a" stroke="#15110a" stroke-width="0.45" text-anchor="start" textLength="69.9" lengthAdjust="spacingAndGlyphs">Refinery</text>
<text x="919.9" y="681.1" font-size="18.3" fill="#15110a" stroke="#15110a" stroke-width="0.45" text-anchor="start" textLength="164.3" lengthAdjust="spacingAndGlyphs">Disproportionation</text>
<text x="968.5" y="701.4" font-size="18.3" fill="#15110a" stroke="#15110a" stroke-width="0.45" text-anchor="start" textLength="67.1" lengthAdjust="spacingAndGlyphs">Reactor</text>
<text x="1163.3" y="172" font-size="18.3" fill="#15110a" stroke="#15110a" stroke-width="0.45" text-anchor="start" textLength="54.7" lengthAdjust="spacingAndGlyphs">Steam</text>
<text x="1160.5" y="193.7" font-size="18.3" fill="#15110a" stroke="#15110a" stroke-width="0.45" text-anchor="start" textLength="62.2" lengthAdjust="spacingAndGlyphs">Turbine</text>
<text x="1253.5" y="112.1" font-size="18.3" fill="#15110a" stroke="#15110a" stroke-width="0.45" text-anchor="start" textLength="92" lengthAdjust="spacingAndGlyphs">Renewable</text>
<text x="1258.4" y="133.6" font-size="18.3" fill="#15110a" stroke="#15110a" stroke-width="0.45" text-anchor="start" textLength="85.4" lengthAdjust="spacingAndGlyphs">Electricity</text>
<text x="1190.6" y="280.9" font-size="18.3" fill="#15110a" stroke="#15110a" stroke-width="0.45" text-anchor="start" textLength="92.6" lengthAdjust="spacingAndGlyphs">Renewable</text>
<text x="1195.9" y="302.1" font-size="18.3" fill="#15110a" stroke="#15110a" stroke-width="0.45" text-anchor="start" textLength="85" lengthAdjust="spacingAndGlyphs">Electricity</text>
<text x="1391.8" y="165.9" font-size="18.3" fill="#15110a" stroke="#15110a" stroke-width="0.45" text-anchor="start" textLength="37.4" lengthAdjust="spacingAndGlyphs">Grid</text>
<defs>
<marker id="at" viewBox="0 0 5.4 6.2" refX="3.4" refY="3.1" markerUnits="userSpaceOnUse" markerWidth="5.4" markerHeight="6.2" orient="auto"><path d="M0,0 L5.4,3.1 L0,6.2 Z" fill="#8b8b8b"/></marker>
</defs>
<path class="thin" d="M246.2,262.3 L339.9,314.8" marker-end="url(#at)"/>
<path class="thin" d="M1028.5,266.8 L1152,172.4" marker-end="url(#at)"/>
<path class="thin" d="M1045.5,269.6 L1370.4,157.8" marker-end="url(#at)"/>
<path class="thin" d="M1223.4,146.3 L1367.4,145.1" marker-end="url(#at)"/>
<path class="thin" d="M934.8,543.5 L976.4,585.2" marker-end="url(#at)"/>
<path class="thin" d="M475.9,256.8 C474,232 460,220.5 437.4,215.9" marker-end="url(#at)"/>
<path class="thin" d="M489.7,256.8 C492,232 506,220.5 529.1,215.9" marker-end="url(#at)"/>
<path class="flow" d="M313.9,439.1 Q325,411 343.3,388.4"/>
<path class="flow" d="M369.6,360.7 Q395,341 422.5,329.2"/>
<path d="M430.3,325.9 L422.5,336.3 L417.4,324.1 Z" fill="#8b8b8b"/>
<path class="flow" d="M535.7,326.1 Q576,344.5 628.8,381.4"/>
<path d="M693.7,438.7 L697.3,442.1 L702.1,446.5 L707.8,451.9 L714.2,457.8 L720.9,464.1 L727.5,470.5 L733.9,476.6 L739.6,482.3 L744.8,487.7 L749.9,493.1 L754.9,498.5 L759.7,503.8 L764.5,509.2 L769.3,514.5 L774.2,519.7 L779.1,524.8 L784,529.9 L788.9,534.9 L793.8,539.8 L798.7,544.7 L803.6,549.5 L808.5,554.2 L813.4,558.8 L818.3,563.2 L823.2,567.5 L828.1,571.8 L833,575.9 L837.9,579.9 L842.8,583.8 L847.8,587.6 L852.7,591.2 L857.6,594.7 L862.5,598 L867.5,601 L872.4,604 L877.3,606.8 L882.2,609.5 L887.1,612.1 L892,614.8 L896.9,617.4 L902.1,620.1 L907.5,622.9 L913.2,625.7 L918.7,628.4 L924,631 L928.8,633.4 L932.9,635.4 L936.2,637 L938.6,638.2 L940.1,639 L941,639.5 L941.3,639.7 L941.1,639.5 L940.8,638.8 L941.4,639.9 L941.7,640.1 L943.3,637.5 L943.2,637.5 L943.8,638.5 L943.4,637.6 L943,637.2 L942.5,636.9 L941.5,636.4 L939.9,635.6 L937.6,634.4 L934.3,632.7 L930.1,630.7 L925.3,628.4 L920,625.8 L914.5,623.1 L908.9,620.3 L903.4,617.5 L898.3,614.8 L893.4,612.2 L888.5,609.6 L883.6,607 L878.7,604.3 L873.8,601.5 L868.9,598.6 L864.1,595.6 L859.2,592.3 L854.3,588.9 L849.4,585.3 L844.6,581.6 L839.7,577.7 L834.8,573.8 L829.9,569.7 L825,565.5 L820.1,561.2 L815.2,556.8 L810.3,552.2 L805.4,547.6 L800.6,542.8 L795.7,537.9 L790.8,533 L785.9,528 L780.9,523 L776.1,517.9 L771.3,512.7 L766.5,507.4 L761.6,502.1 L756.7,496.7 L751.8,491.3 L746.7,485.9 L741.4,480.5 L735.6,474.8 L729.2,468.7 L722.6,462.3 L715.9,456 L709.5,450.1 L703.7,444.8 L698.9,440.3 L695.3,436.9Z" fill="#8b8b8b"/>
<path d="M950.2,643.1 L937.2,643.8 L943.3,632.1 Z" fill="#8b8b8b"/>
<path class="flow" d="M927.3,335.3 Q887,351 850.6,381.1"/>
<path d="M786.5,437.3 L782.8,440.8 L777.6,445.7 L771.4,451.5 L764.7,457.9 L757.7,464.5 L751,470.9 L744.9,476.7 L739.8,481.6 L735.6,485.7 L732.1,489.1 L728.9,492.2 L726.1,495.1 L723.5,497.8 L720.8,500.4 L718.1,503.2 L715.2,506.2 L712.2,509.3 L709.1,512.6 L706,515.8 L703,519.1 L699.9,522.3 L696.8,525.6 L693.8,528.7 L690.7,531.8 L687.7,534.9 L684.6,537.9 L681.6,540.8 L678.5,543.8 L675.4,546.6 L672.4,549.5 L669.3,552.3 L666.3,555.1 L663.2,557.8 L660.1,560.5 L657.1,563.1 L654,565.7 L650.9,568.3 L647.8,570.8 L644.8,573.3 L641.7,575.8 L638.6,578.2 L635.6,580.6 L632.5,583 L629.5,585.3 L626.4,587.5 L623.4,589.8 L620.3,592 L617.3,594.1 L614.2,596.3 L611.1,598.3 L608.1,600.4 L605,602.4 L602,604.3 L598.9,606.2 L595.9,608.1 L592.8,610 L589.7,611.8 L586.5,613.6 L583.2,615.4 L580,617.2 L576.8,618.9 L573.8,620.5 L571,622 L568.4,623.4 L566,624.7 L563.8,625.8 L561.7,626.8 L559.8,627.8 L558,628.7 L556.4,629.4 L555,630.2 L553.7,630.8 L552.6,631.4 L551.8,631.8 L551.1,632.1 L550.6,632.4 L550.2,632.7 L549.9,632.8 L549.6,633 L549.4,633.1 L550.6,635.5 L550.9,635.3 L551.2,635.2 L551.5,635 L551.9,634.8 L552.4,634.5 L553,634.2 L553.9,633.7 L554.9,633.2 L556.2,632.6 L557.6,631.9 L559.2,631.1 L561,630.2 L562.9,629.2 L565,628.2 L567.2,627 L569.6,625.8 L572.2,624.4 L575.1,622.9 L578.1,621.3 L581.3,619.5 L584.5,617.8 L587.8,615.9 L591,614.1 L594.2,612.2 L597.2,610.4 L600.3,608.5 L603.4,606.5 L606.5,604.6 L609.5,602.5 L612.6,600.5 L615.7,598.4 L618.7,596.3 L621.8,594.1 L624.9,591.9 L628,589.6 L631,587.3 L634.1,585 L637.2,582.6 L640.2,580.2 L643.3,577.8 L646.4,575.3 L649.5,572.8 L652.5,570.3 L655.6,567.7 L658.7,565.1 L661.8,562.4 L664.9,559.7 L667.9,556.9 L671,554.2 L674.1,551.3 L677.2,548.5 L680.2,545.6 L683.3,542.6 L686.3,539.6 L689.4,536.6 L692.5,533.6 L695.5,530.5 L698.6,527.3 L701.7,524 L704.7,520.8 L707.8,517.5 L710.9,514.2 L713.9,511 L717,507.8 L719.9,504.9 L722.6,502.1 L725.2,499.4 L727.8,496.8 L730.6,493.9 L733.8,490.9 L737.3,487.4 L741.4,483.4 L746.5,478.5 L752.6,472.6 L759.3,466.2 L766.3,459.6 L773,453.2 L779.2,447.4 L784.3,442.5 L788.1,438.9Z" fill="#8b8b8b"/>
<path d="M542.1,638.6 L550.4,628.4 L555.2,639.7 Z" fill="#8b8b8b"/>
<path class="flow" d="M1054.9,641.1 Q1073,635 1089.6,624.3"/>
<path class="flow" d="M1127.8,588.6 Q1141,577 1149.5,564"/>
<path d="M1154.3,557 L1153.7,570 L1142.6,562.7 Z" fill="#8b8b8b"/>
<path class="flow" d="M1150.7,407.8 Q1144,393 1132.8,380.1"/>
<path class="flow" d="M1102.2,350.2 Q1091,343 1078.5,337.2"/>
<path d="M1071,333 L1084,332.6 L1077.6,344.2 Z" fill="#8b8b8b"/>
<path class="flow" d="M427.2,644.1 Q401,634 377.8,616.7"/>
<path class="flow" d="M350.8,589.9 Q329,566 318.6,537.5"/>
<path d="M315.7,529.4 L325.8,537.6 L313.4,542.2 Z" fill="#8b8b8b"/>
<path class="dash" d="M166.4,490.3 L249,490.3" stroke-dasharray="8.4 8.3" stroke-dashoffset="4.1"/>
<path d="M256,490.3 L246.4,494.7 L247.8,490.3 L246.4,485.9 Z" fill="#111" stroke="#111" stroke-width="0.6" stroke-linejoin="round"/>
<path class="dash" d="M1346,490.4 L1263,490.4" stroke-dasharray="8.4 8.3" stroke-dashoffset="4.1"/>
<path d="M1255.9,490.4 L1265.5,486 L1264.1,490.4 L1265.5,494.8 Z" fill="#111" stroke="#111" stroke-width="0.6" stroke-linejoin="round"/>
<path class="dash" d="M1000.6,377.2 L1000.6,442.7" stroke-dasharray="9.5 8" stroke-dashoffset="7.2"/>
<path class="dash" d="M1000.6,479.9 L1000.6,582" stroke-dasharray="9.5 8" stroke-dashoffset="8.4"/>
<path d="M1000.6,590 L996.4,579.6 L1000.6,581 L1004.8,579.6 Z" fill="#111" stroke="#111" stroke-width="0.6" stroke-linejoin="round"/>
</svg></body></html>
